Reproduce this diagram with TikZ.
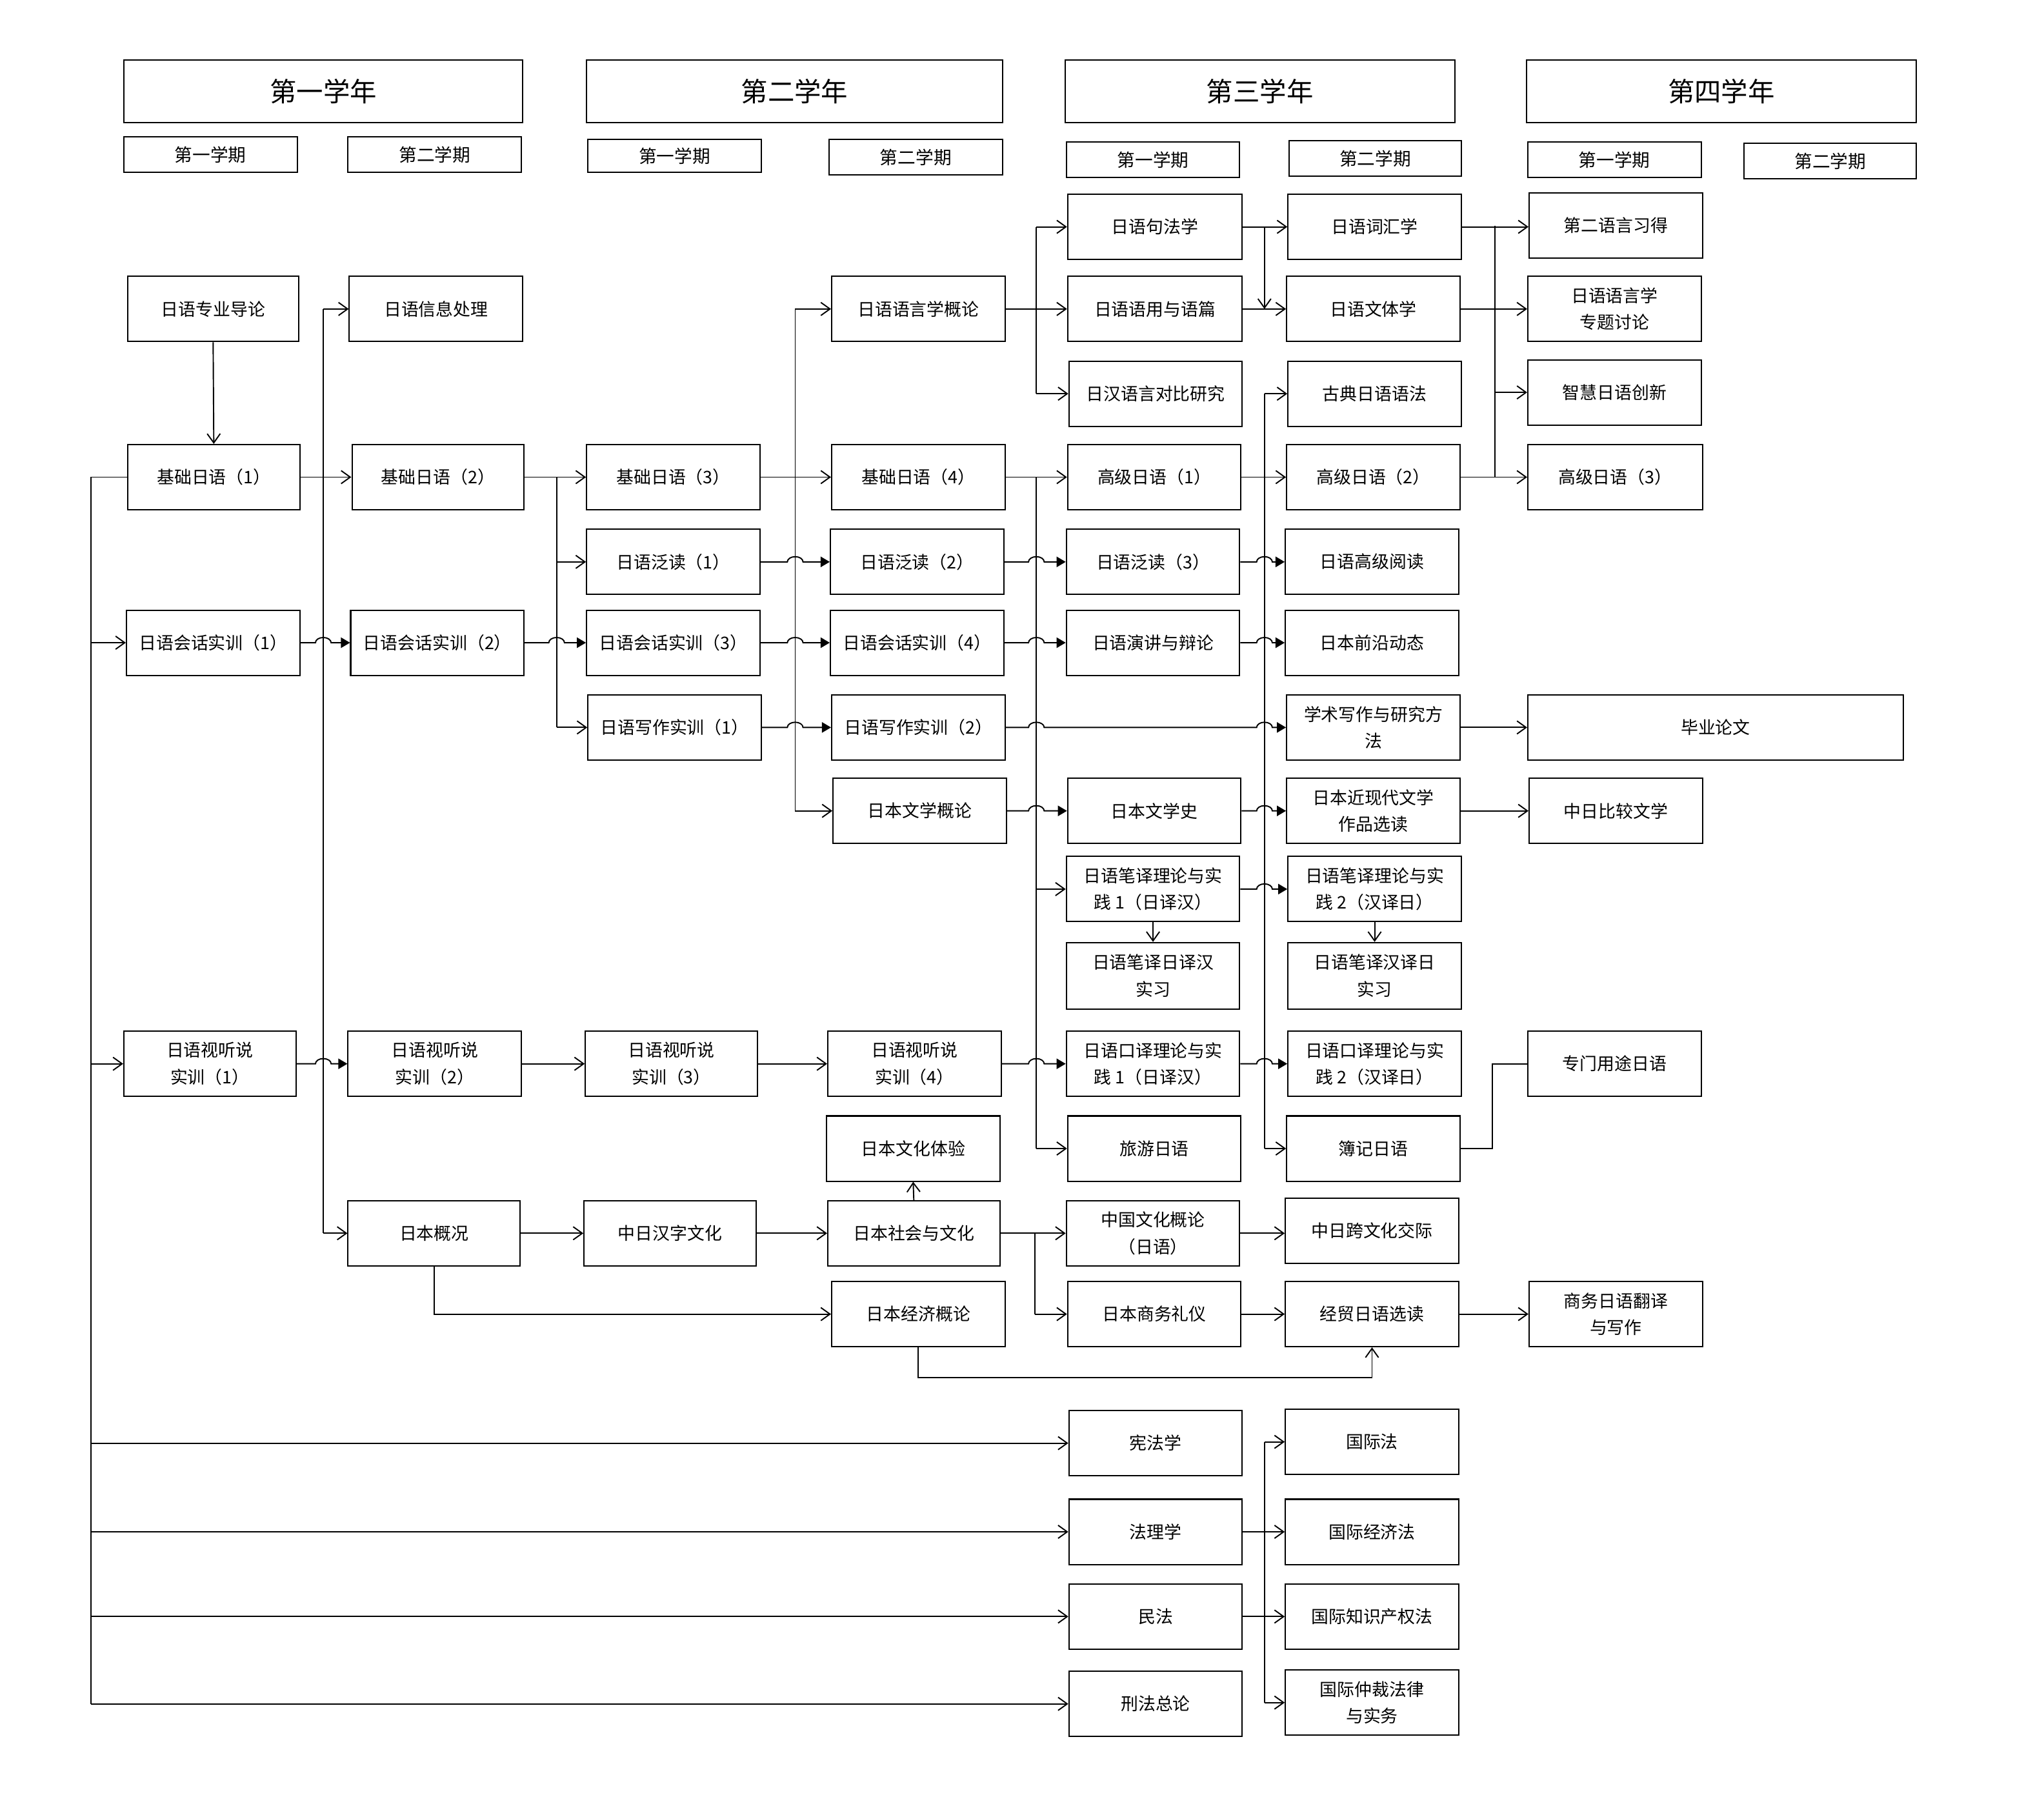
\documentclass[tikz,border=0pt]{standalone}
\usepackage{fontspec}
\setmainfont{Noto Sans CJK SC}
\usetikzlibrary{arrows.meta}
\tikzset{
  cbox/.style={draw, line width=1pt, inner sep=1pt, align=center, font=\fontsize{13.3}{20.5}\selectfont},
  hbox/.style={cbox, font=\fontsize{20.5}{24}\selectfont},
  sbox/.style={cbox, font=\fontsize{13.7}{16}\selectfont},
  conn/.style={line width=0.95pt},
  oa/.style={conn, -{Straight Barb[length=7pt,width=10pt]}},
  fa/.style={conn, -{Triangle[length=7pt,width=8pt]}},
}
\newcommand\mkbox[7][cbox]{%
  \pgfmathsetmacro\mkW{#5-#3}\pgfmathsetmacro\mkH{#6-#4}%
  \pgfmathsetmacro\mkX{(#3+#5)/2}\pgfmathsetmacro\mkY{(#4+#6)/2}%
  \node[#1, minimum width=\mkW pt, minimum height=\mkH pt] (#2) at (\mkX,\mkY) {#7};}
\begin{document}
\begin{tikzpicture}[x=1pt,y=-1pt]
\useasboundingbox (0,0) rectangle (1568,1378);
% headers
\mkbox[hbox]{y1}{95}{46}{401}{94}{第一学年}
\mkbox[hbox]{y2}{450}{46}{769}{94}{第二学年}
\mkbox[hbox]{y3}{817}{46}{1116}{94}{第三学年}
\mkbox[hbox]{y4}{1171}{46}{1470}{94}{第四学年}
\mkbox[sbox]{s11}{95}{105}{228}{132}{第一学期}
\mkbox[sbox]{s12}{267}{105}{400}{132}{第二学期}
\mkbox[sbox]{s21}{451}{107}{584}{132}{第一学期}
\mkbox[sbox]{s22}{636}{107}{769}{134}{第二学期}
\mkbox[sbox]{s31}{818}{109}{951}{136}{第一学期}
\mkbox[sbox]{s32}{989}{108}{1121}{135}{第二学期}
\mkbox[sbox]{s41}{1172}{109}{1305}{136}{第一学期}
\mkbox[sbox]{s42}{1338}{110}{1470}{137}{第二学期}
% column 1
\mkbox{a1}{98}{212}{229}{262}{日语专业导论}
\mkbox{a2}{98}{341}{230}{391}{基础日语（1）}
\mkbox{a3}{97}{468}{230}{518}{日语会话实训（1）}
\mkbox{a4}{95}{791}{227}{841}{日语视听说\\实训（1）}
% column 2
\mkbox{b1}{268}{212}{401}{262}{日语信息处理}
\mkbox{b2}{270}{341}{402}{391}{基础日语（2）}
\mkbox{b3}{269}{468}{402}{518}{日语会话实训（2）}
\mkbox{b4}{267}{791}{400}{841}{日语视听说\\实训（2）}
\mkbox{b5}{267}{921}{399}{971}{日本概况}
% column 3
\mkbox{c1}{450}{341}{583}{391}{基础日语（3）}
\mkbox{c2}{450}{406}{583}{456}{日语泛读（1）}
\mkbox{c3}{450}{468}{583}{518}{日语会话实训（3）}
\mkbox{c4}{451}{533}{584}{583}{日语写作实训（1）}
\mkbox{c5}{449}{791}{581}{841}{日语视听说\\实训（3）}
\mkbox{c6}{448}{921}{580}{971}{中日汉字文化}
% column 4
\mkbox{d0}{638}{212}{771}{262}{日语语言学概论}
\mkbox{d1}{638}{341}{771}{391}{基础日语（4）}
\mkbox{d2}{637}{406}{770}{456}{日语泛读（2）}
\mkbox{d3}{637}{468}{770}{518}{日语会话实训（4）}
\mkbox{d4}{638}{533}{771}{583}{日语写作实训（2）}
\mkbox{d5}{639}{597}{772}{647}{日本文学概论}
\mkbox{d6}{635}{791}{768}{841}{日语视听说\\实训（4）}
\mkbox{d7}{634}{856}{767}{906}{日本文化体验}
\mkbox{d8}{635}{921}{767}{971}{日本社会与文化}
\mkbox{d9}{638}{983}{771}{1033}{日本经济概论}
% column 5
\mkbox{e1}{819}{149}{953}{199}{日语句法学}
\mkbox{e2}{819}{212}{953}{262}{日语语用与语篇}
\mkbox{e3}{820}{277}{953}{327}{日汉语言对比研究}
\mkbox{e4}{819}{341}{952}{391}{高级日语（1）}
\mkbox{e5}{818}{406}{951}{456}{日语泛读（3）}
\mkbox{e6}{818}{468}{951}{518}{日语演讲与辩论}
\mkbox{e7}{819}{597}{952}{647}{日本文学史}
\mkbox{e8}{818}{657}{951}{707}{日语笔译理论与实\\践 1（日译汉）}
\mkbox{e9}{818}{723}{951}{774}{日语笔译日译汉\\实习}
\mkbox{e10}{818}{791}{951}{841}{日语口译理论与实\\践 1（日译汉）}
\mkbox{e11}{819}{856}{952}{906}{旅游日语}
\mkbox{e12}{818}{921}{951}{971}{中国文化概论\\（日语）}
\mkbox{e13}{819}{983}{952}{1033}{日本商务礼仪}
\mkbox{e14}{820}{1082}{953}{1132}{宪法学}
\mkbox{e15}{820}{1150}{953}{1200}{法理学}
\mkbox{e16}{820}{1215}{953}{1265}{民法}
\mkbox{e17}{820}{1282}{953}{1332}{刑法总论}
% column 6
\mkbox{f1}{988}{149}{1121}{199}{日语词汇学}
\mkbox{f2}{987}{212}{1120}{262}{日语文体学}
\mkbox{f3}{988}{277}{1121}{327}{古典日语语法}
\mkbox{f4}{987}{341}{1120}{391}{高级日语（2）}
\mkbox{f5}{986}{406}{1119}{456}{日语高级阅读}
\mkbox{f6}{986}{468}{1119}{518}{日本前沿动态}
\mkbox{f7}{987}{533}{1120}{583}{学术写作与研究方\\法}
\mkbox{f8}{987}{597}{1120}{647}{日本近现代文学\\作品选读}
\mkbox{f9}{988}{657}{1121}{707}{日语笔译理论与实\\践 2（汉译日）}
\mkbox{f10}{988}{723}{1121}{774}{日语笔译汉译日\\实习}
\mkbox{f11}{988}{791}{1121}{841}{日语口译理论与实\\践 2（汉译日）}
\mkbox{f12}{987}{856}{1120}{906}{簿记日语}
\mkbox{f13}{986}{919}{1119}{969}{中日跨文化交际}
\mkbox{f14}{986}{983}{1119}{1033}{经贸日语选读}
\mkbox{f15}{986}{1081}{1119}{1131}{国际法}
\mkbox{f16}{986}{1150}{1119}{1200}{国际经济法}
\mkbox{f17}{986}{1215}{1119}{1265}{国际知识产权法}
\mkbox{f18}{986}{1281}{1119}{1331}{国际仲裁法律\\与实务}
% column 7
\mkbox{g1}{1173}{148}{1306}{198}{第二语言习得}
\mkbox{g2}{1172}{212}{1305}{262}{日语语言学\\专题讨论}
\mkbox{g3}{1172}{276}{1305}{326}{智慧日语创新}
\mkbox{g4}{1172}{341}{1306}{391}{高级日语（3）}
\mkbox{g5}{1172}{533}{1460}{583}{毕业论文}
\mkbox{g6}{1173}{597}{1306}{647}{中日比较文学}
\mkbox{g7}{1172}{791}{1305}{841}{专门用途日语}
\mkbox{g8}{1173}{983}{1306}{1033}{商务日语翻译\\与写作}

% bus coordinates
\coordinate (k70t) at (70,366);   \coordinate (k70b) at (70,1307);
\coordinate (k248t) at (248,237); \coordinate (k248b) at (248,946);
\coordinate (k427t) at (427,366); \coordinate (k427b) at (427,558);
\coordinate (k610t) at (610,237); \coordinate (k610b) at (610,622);
\coordinate (k795a) at (795,174); \coordinate (k795b) at (795,302);
\coordinate (k795c) at (795,366); \coordinate (k795d) at (795,881);
\coordinate (k794t) at (794,946);
\coordinate (k970a) at (970,174);
\coordinate (k970c) at (970,302); \coordinate (k970d) at (970,881);
\coordinate (k970l) at (970,1106); \coordinate (k970m) at (970,1306);
\coordinate (k1147t) at (1147,173); \coordinate (k1147b) at (1147,366);
\coordinate (k1145) at (1145,0);
% hop starts
\coordinate (h248) at (242,0);
\coordinate (h427) at (421,0);
\coordinate (h610) at (604,0);
\coordinate (h795) at (789,0);
\coordinate (h970) at (964,0);

% left bus from 基础日语（1）
\draw[conn] (a2.west) -- (a2.west -| k70t) -- (k70b);
\draw[oa] (a3.west -| k70t) -- (a3.west);
\draw[oa] (a4.west -| k70t) -- (a4.west);
\draw[oa] (e14.west -| k70t) -- (e14.west);
\draw[oa] (e15.west -| k70t) -- (e15.west);
\draw[oa] (e16.west -| k70t) -- (e16.west);
\draw[oa] (e17.west -| k70t) -- (e17.west);

\draw[oa] (a1.south) -- (a2.north);

% bus 248
\draw[conn] (k248t) -- (k248b);
\draw[oa] (a2.east) -- (a2.east -| b2.west);
\draw[oa] (k248t) -- (k248t -| b1.west);
\draw[oa] (k248b) -- (k248b -| b5.west);

% bus 427
\draw[oa] (b2.east) -- (b2.east -| c1.west);
\draw[conn] (k427t) -- (k427b);
\draw[oa] (c2.west -| k427t) -- (c2.west);
\draw[oa] (c4.west -| k427t) -- (c4.west);

% bus 610
\draw[oa] (c1.east) -- (c1.east -| d1.west);
\draw[conn] (k610t) -- (k610b);
\draw[oa] (d0.west -| k610t) -- (d0.west);
\draw[oa] (d5.west -| k610t) -- (d5.west);

% bus 795 upper
\draw[oa] (d0.east) -- (d0.east -| e2.west);
\draw[conn] (k795a) -- (k795b);
\draw[oa] (e1.west -| k795a) -- (e1.west);
\draw[oa] (e3.west -| k795a) -- (e3.west);

% bus 795 lower
\draw[oa] (d1.east) -- (d1.east -| e4.west);
\draw[conn] (k795c) -- (k795d);
\draw[oa] (e8.west -| k795c) -- (e8.west);
\draw[oa] (e11.west -| k795c) -- (e11.west);

% bus 970 upper
\draw[oa] (e1.east) -- (e1.east -| f1.west);
\draw[oa] (k970a) -- (k970a |- e2.east);
\draw[oa] (e2.east) -- (e2.east -| f2.west);

% bus 970 lower
\draw[oa] (e4.east) -- (e4.east -| f4.west);
\draw[conn] (k970c) -- (k970d);
\draw[oa] (f3.west -| k970c) -- (f3.west);
\draw[oa] (f12.west -| k970c) -- (f12.west);

% bus 1147
\draw[oa] (f1.east) -- (f1.east -| g1.west);
\draw[oa] (f2.east) -- (f2.east -| g2.west);
\draw[oa] (f4.east) -- (f4.east -| g4.west);
\draw[conn] (k1147t) -- (k1147b);
\draw[oa] (g3.west -| k1147t) -- (g3.west);

\draw[oa] (f7.east) -- (f7.east -| g5.west);
\draw[oa] (f8.east) -- (f8.east -| g6.west);
\draw[conn] (f12.east) -- (f12.east -| k1145) -- (g7.west -| k1145) -- (g7.west);

% culture / economy
\draw[oa] (b4.east) -- (b4.east -| c5.west);
\draw[oa] (c5.east) -- (c5.east -| d6.west);
\draw[oa] (b5.east) -- (b5.east -| c6.west);
\draw[oa] (c6.east) -- (c6.east -| d8.west);
\draw[oa] (d8.north) -- (d7.south);
\draw[oa] (b5.south) |- (d9.west);
\draw[oa] (d8.east) -- (d8.east -| e12.west);
\draw[conn] (k794t) -- (k794t |- e13.west);
\draw[oa] (e13.west -| k794t) -- (e13.west);
\draw[oa] (e12.east) -- (e12.east -| f13.west);
\draw[oa] (e13.east) -- (e13.east -| f14.west);
\draw[oa] (f14.east) -- (f14.east -| g8.west);
\draw[oa] (d9.south) -- ++(0,23) -| (f14.south);

\draw[oa] (e8.south) -- (e9.north);
\draw[oa] (f9.south) -- (f10.north);

% law
\draw[conn] (k970l) -- (k970m);
\draw[oa] (e15.east) -- (e15.east -| f16.west);
\draw[oa] (e16.east) -- (e16.east -| f17.west);
\draw[oa] (f15.west -| k970l) -- (f15.west);
\draw[oa] (f18.west -| k970l) -- (f18.west);

% hop connectors
\draw[fa] (a3.east) -- (a3.east -| h248) arc[start angle=180,end angle=0,x radius=6pt,y radius=4pt] -- (a3.east -| b3.west);
\draw[fa] (b3.east) -- (b3.east -| h427) arc[start angle=180,end angle=0,x radius=6pt,y radius=4pt] -- (b3.east -| c3.west);
\draw[fa] (c3.east) -- (c3.east -| h610) arc[start angle=180,end angle=0,x radius=6pt,y radius=4pt] -- (c3.east -| d3.west);
\draw[fa] (d3.east) -- (d3.east -| h795) arc[start angle=180,end angle=0,x radius=6pt,y radius=4pt] -- (d3.east -| e6.west);
\draw[fa] (e6.east) -- (e6.east -| h970) arc[start angle=180,end angle=0,x radius=6pt,y radius=4pt] -- (e6.east -| f6.west);
\draw[fa] (c2.east) -- (c2.east -| h610) arc[start angle=180,end angle=0,x radius=6pt,y radius=4pt] -- (c2.east -| d2.west);
\draw[fa] (d2.east) -- (d2.east -| h795) arc[start angle=180,end angle=0,x radius=6pt,y radius=4pt] -- (d2.east -| e5.west);
\draw[fa] (e5.east) -- (e5.east -| h970) arc[start angle=180,end angle=0,x radius=6pt,y radius=4pt] -- (e5.east -| f5.west);
\draw[fa] (c4.east) -- (c4.east -| h610) arc[start angle=180,end angle=0,x radius=6pt,y radius=4pt] -- (c4.east -| d4.west);
\draw[fa] (d4.east) -- (d4.east -| h795) arc[start angle=180,end angle=0,x radius=6pt,y radius=4pt] -- (d4.east -| h970) arc[start angle=180,end angle=0,x radius=6pt,y radius=4pt] -- (d4.east -| f7.west);
\draw[fa] (d5.east) -- (d5.east -| h795) arc[start angle=180,end angle=0,x radius=6pt,y radius=4pt] -- (d5.east -| e7.west);
\draw[fa] (e7.east) -- (e7.east -| h970) arc[start angle=180,end angle=0,x radius=6pt,y radius=4pt] -- (e7.east -| f8.west);
\draw[fa] (e8.east) -- (e8.east -| h970) arc[start angle=180,end angle=0,x radius=6pt,y radius=4pt] -- (e8.east -| f9.west);
\draw[fa] (a4.east) -- (a4.east -| h248) arc[start angle=180,end angle=0,x radius=6pt,y radius=4pt] -- (a4.east -| b4.west);
\draw[fa] (d6.east) -- (d6.east -| h795) arc[start angle=180,end angle=0,x radius=6pt,y radius=4pt] -- (d6.east -| e10.west);
\draw[fa] (e10.east) -- (e10.east -| h970) arc[start angle=180,end angle=0,x radius=6pt,y radius=4pt] -- (e10.east -| f11.west);
\end{tikzpicture}
\end{document}
